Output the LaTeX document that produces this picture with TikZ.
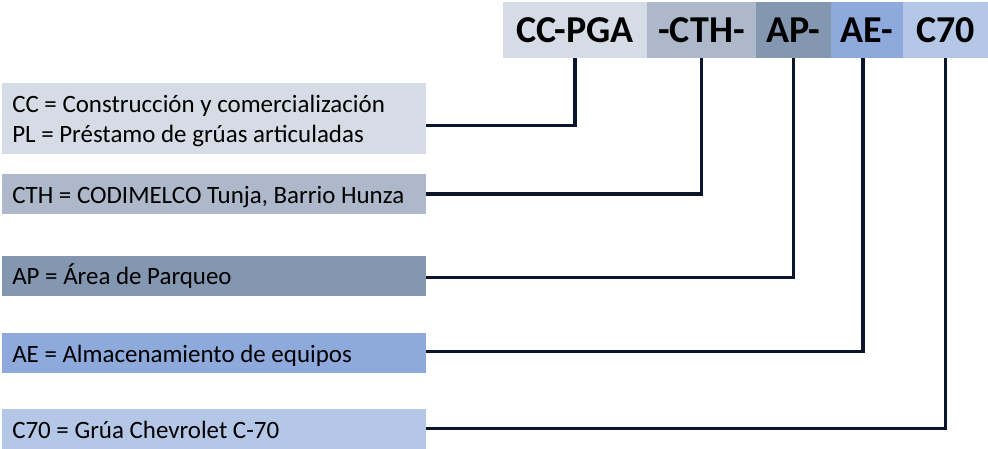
\documentclass[tikz,border=0pt]{standalone}
\usepackage{fontspec}
\setmainfont{Carlito}
\definecolor{cA}{HTML}{D6DCE5}
\definecolor{cB}{HTML}{ADB9CA}
\definecolor{cC}{HTML}{8497B0}
\definecolor{cD}{HTML}{8EA9DB}
\definecolor{cE}{HTML}{B4C7E7}
\definecolor{lineC}{HTML}{0B1628}
\begin{document}
\begin{tikzpicture}[x=0.75pt,y=-0.75pt,
  topbox/.style={draw=none,inner sep=0pt,minimum height=42pt,font=\fontsize{28.5}{34}\selectfont\bfseries},
  legbox/.style={draw=none,inner sep=0pt,minimum width=318pt,minimum height=30pt},
  legtext/.style={inner sep=0pt,anchor=base west,font=\fontsize{18.7}{22.4}\selectfont},
  conn/.style={draw=lineC,line width=2.4pt}]
\useasboundingbox (0,0) rectangle (988,449);
% top code boxes
\node[topbox,fill=cA,minimum width=108pt] (cc) at (575,30) {CC-PGA};
\node[topbox,fill=cB,minimum width=81.75pt] (cth) at (701.5,30) {-CTH-};
\node[topbox,fill=cC,minimum width=56.25pt] (ap) at (793.5,30) {AP-};
\node[topbox,fill=cD,minimum width=54pt] (ae) at (867,30) {AE-};
\node[topbox,fill=cE,minimum width=63.75pt] (c70) at (945.5,30) {C70};
% legend boxes
\node[legbox,fill=cA,minimum height=53.25pt] (l1) at (213.5,118.5) {};
\node[legbox,fill=cB] (l2) at (213.5,194) {};
\node[legbox,fill=cC] (l3) at (213.5,275.5) {};
\node[legbox,fill=cD] (l4) at (213.5,353) {};
\node[legbox,fill=cE] (l5) at (213.5,428.5) {};
% legend texts
\node[legtext] (t1a) at (12,113) {CC = Construcción y comercialización};
\node[legtext] (t1b) at (12,143) {PL = Préstamo de grúas articuladas};
\node[legtext] (t2) at (12,203) {CTH = CODIMELCO Tunja, Barrio Hunza};
\node[legtext] (t3) at (12,284) {AP = Área de Parqueo};
\node[legtext] (t4) at (12,362) {AE = Almacenamiento de equipos};
\node[legtext] (t5) at (12,438) {C70 = Grúa Chevrolet C-70};
% connectors
\coordinate (l1c) at ([yshift=-5.5pt]l1.east);
\draw[conn] (l1c) -| (cc.south);
\draw[conn] (l2.east) -| (cth.south);
\draw[conn] ([yshift=-1.5pt]l3.east) -| (ap.south);
\draw[conn] ([yshift=1pt]l4.east) -| ([xshift=-3pt]ae.south);
\draw[conn] (l5.east) -| (c70.south);
\end{tikzpicture}
\end{document}
